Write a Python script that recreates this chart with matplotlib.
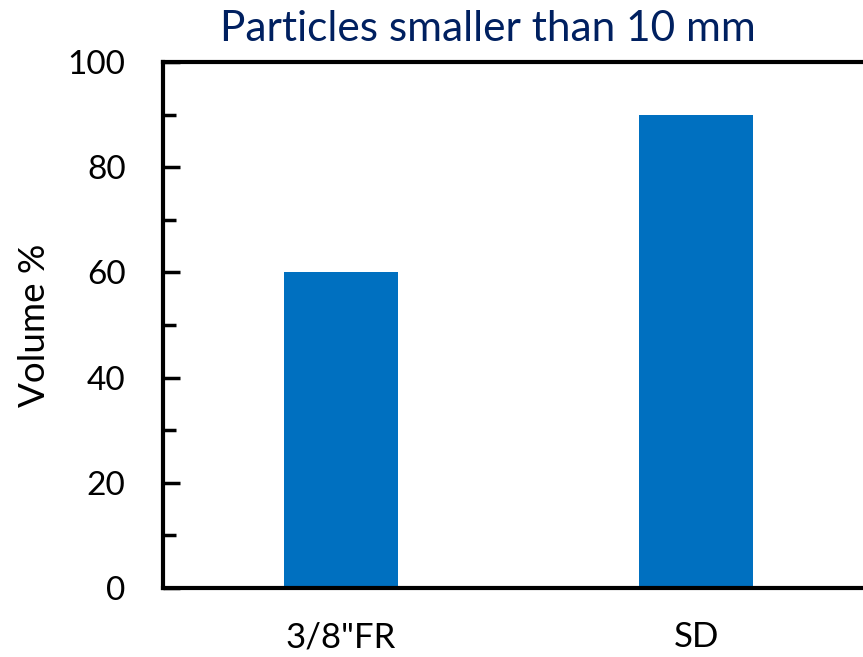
import matplotlib
matplotlib.use("Agg")
import matplotlib.pyplot as plt
from matplotlib.ticker import MultipleLocator

categories = ['3/8"FR', 'SD']
values = [60, 90]

plt.rcParams['font.family'] = ['Lato', 'DejaVu Sans']

fig = plt.figure(figsize=(8.63, 6.57), dpi=100)
# axes extends beyond right edge of the figure (cut off like the reference)
ax = fig.add_axes([163/863, (657-588)/657, (874-163)/863, (588-62)/657])
ax.bar(range(len(categories)), values, width=0.32, color='#0070C0')
ax.set_xlim(-0.5, 1.5)
ax.set_ylim(0, 100)
ax.set_xticks(range(len(categories)))
ax.set_xticklabels(categories)
ax.yaxis.set_major_locator(MultipleLocator(20))
ax.yaxis.set_minor_locator(MultipleLocator(10))
ax.tick_params(axis='y', which='major', direction='in', length=12, width=2.5,
               labelsize=24, pad=27)
ax.tick_params(axis='y', which='minor', direction='in', length=9, width=2.5)
ax.tick_params(axis='x', length=0, labelsize=25, pad=24)
for s in ['left', 'bottom', 'top']:
    ax.spines[s].set_linewidth(3)
    ax.spines[s].set_color('black')
ax.spines['right'].set_visible(False)
ax.set_ylabel('Volume %', fontsize=26.5, labelpad=12)
fig.text(488/863, 1-29/657, 'Particles smaller than 10 mm', ha='center', va='center',
         fontsize=30.5, color='#002060')
fig.savefig('out.png', dpi=100)
